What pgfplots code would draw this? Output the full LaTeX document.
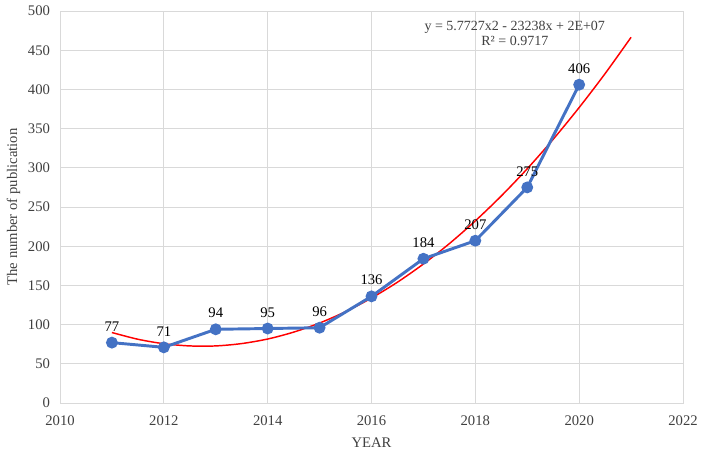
\documentclass[border=0pt]{standalone}
\usepackage{pgfplots}
\pgfplotsset{compat=1.18}
\usepackage{fontspec}
\setmainfont{Liberation Serif}
\definecolor{XBlue}{HTML}{4472C4}
\definecolor{GridGray}{HTML}{D9D9D9}
\definecolor{TextGray}{HTML}{404040}
\begin{document}
\begin{tikzpicture}
\path[use as bounding box] (0,0) rectangle (527.25pt,342pt);
\begin{axis}[
  at={(45pt,39.75pt)},anchor=south west,
  scale only axis,width=467.25pt,height=294pt,
  xmin=2010,xmax=2022,ymin=0,ymax=500,
  xtick={2010,2012,...,2022},ytick={0,50,...,500},
  /pgf/number format/1000 sep={},
  /pgf/number format/assume math mode=true,
  tick label style={font=\fontsize{11}{13}\selectfont,text=TextGray},
  xticklabel style={yshift=-6pt},
  yticklabel style={xshift=-4pt},
  major tick length=0pt,
  grid=major,grid style={draw=GridGray,line width=.6pt},
  axis line style={draw=GridGray,line width=.6pt},
  xlabel={YEAR},ylabel={The number of publication},
  label style={font=\fontsize{11}{13}\selectfont,text=TextGray},
  xlabel style={yshift=-2pt},ylabel style={yshift=-1pt},
  clip=false]
% quadratic trend line
\addplot[red,line width=1.1pt,smooth] coordinates {
 (2011,89.9) (2011.5,81.3) (2012,75.6) (2012.5,72.8) (2013,72.8) (2013.5,75.8)
 (2014,81.6) (2014.5,90.4) (2015,102.0) (2015.5,116.5) (2016,133.9) (2016.5,154.1)
 (2017,177.3) (2017.5,203.3) (2018,232.3) (2018.5,264.1) (2019,298.8) (2019.5,336.4)
 (2020,376.9) (2020.5,420.2) (2021,466.5)};
\addplot[XBlue,line width=2.2pt,mark=*,mark size=3.3pt,
  nodes near coords,point meta=y,
  nodes near coords style={font=\fontsize{11}{13}\selectfont,text=black,anchor=south,yshift=4pt}]
 coordinates {(2011,77) (2012,71) (2013,94) (2014,95) (2015,96)
  (2016,136) (2017,184) (2018,207) (2019,275) (2020,406)};
\node[font=\fontsize{10.5}{11.5}\selectfont,text=TextGray,align=center] at (axis cs:2018.76,471)
 {y = 5.7727x2 - 23238x + 2E+07\\R² = 0.9717};
\end{axis}
\end{tikzpicture}
\end{document}
